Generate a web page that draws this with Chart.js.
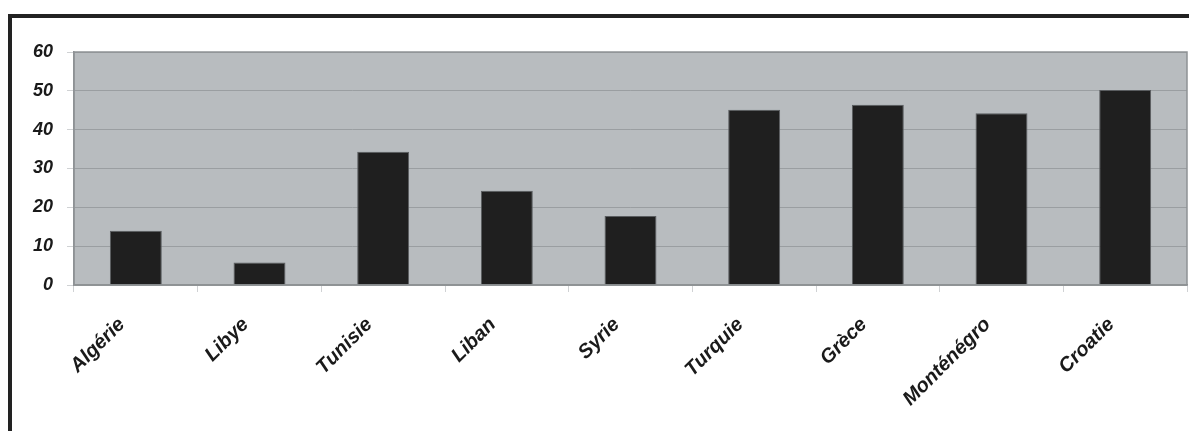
<!DOCTYPE html>
<html>
<head>
<meta charset="utf-8">
<script src="https://cdn.jsdelivr.net/npm/chart.js@4"></script>
<style>
  html, body { margin: 0; padding: 0; background: #fff; overflow: hidden; }
  #frame {
    position: absolute; left: 8px; top: 14px; width: 1300px; height: 500px;
    border-top: 4px solid #222; border-left: 4px solid #222;
  }
  #chart { position: absolute; left: 0; top: 0; }
</style>
</head>
<body>
<div id="frame"></div>
<canvas id="chart" width="1189" height="431"></canvas>
<script>
const countries = ['Algérie', 'Libye', 'Tunisie', 'Liban', 'Syrie', 'Turquie', 'Grèce', 'Monténégro', 'Croatie'];
const values = [14, 5.8, 34.3, 24.3, 17.8, 45.1, 46.4, 44.2, 50.2];
const yTicks = [0, 10, 20, 30, 40, 50, 60];

// grey plot background and its outline
const plotBox = {
    id: 'plotBox',
    beforeDraw(chart) {
        const a = chart.chartArea;
        const c = chart.ctx;
        c.save();
        c.fillStyle = '#b8bcbf';
        c.fillRect(a.left, a.top, a.right - a.left, a.bottom - a.top);
        c.restore();
    },
    afterDraw(chart) {
        const a = chart.chartArea;
        const c = chart.ctx;
        c.save();
        c.strokeStyle = '#8e9295';
        c.lineWidth = 1.5;
        c.strokeRect(a.left, a.top, a.right - a.left, a.bottom - a.top);
        c.restore();
    }
};

const ctx = document.getElementById('chart').getContext('2d');
const chart = new Chart(ctx, {
    type: 'bar',
    data: {
        labels: countries,
        datasets: [{
            data: values,
            backgroundColor: '#1f1f1f',
            borderColor: '#5a5d60',
            borderWidth: 1,
            barPercentage: 0.42,
            categoryPercentage: 1
        }]
    },
    options: {
        responsive: false,
        animation: false,
        layout: { padding: { top: 52, right: 2, left: 0, bottom: 0 } },
        plugins: { legend: { display: false }, tooltip: { enabled: false } },
        scales: {
            x: {
                offset: true,
                grid: {
                    offset: true,
                    drawOnChartArea: false,
                    tickLength: 7,
                    color: '#d0d2d4'
                },
                border: { color: '#8e9295', width: 1.5 },
                ticks: {
                    minRotation: 45,
                    maxRotation: 45,
                    autoSkip: false,
                    padding: 21,
                    labelOffset: -14,
                    color: '#1a1a1a',
                    font: { family: 'Liberation Sans', size: 20, weight: 'bold', style: 'italic' }
                },
                afterFit(scale) { scale.height = 146; }
            },
            y: {
                min: 0,
                max: 60,
                afterBuildTicks(scale) { scale.ticks = yTicks.map(v => ({ value: v })); },
                grid: {
                    color: '#9a9ea1',
                    lineWidth: 1,
                    tickLength: 7,
                    tickColor: '#d0d2d4'
                },
                border: { color: '#8e9295', width: 1.5 },
                ticks: {
                    padding: 14,
                    color: '#1a1a1a',
                    font: { family: 'Liberation Sans', size: 18, weight: 'bold', style: 'italic' }
                },
                afterFit(scale) { scale.width = 74; }
            }
        }
    },
    plugins: [plotBox]
});
</script>
</body>
</html>
